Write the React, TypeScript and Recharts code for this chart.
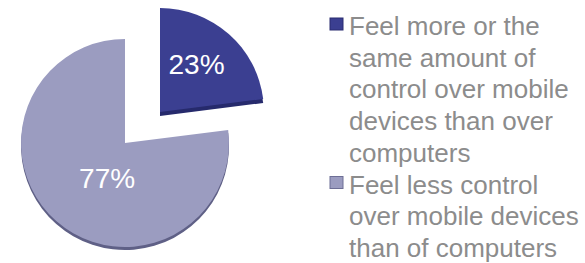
import React from 'react';
import { PieChart, Pie, Cell, Legend } from 'recharts';

const categories = [
  'Feel more or the same amount of control over mobile devices than over computers',
  'Feel less control over mobile devices than of computers',
];
const legendLines = [
  ['Feel more or the', 'same amount of', 'control over mobile', 'devices than over', 'computers'],
  ['Feel less control', 'over mobile devices', 'than of computers'],
];
const values = [23, 77];
const valueLabels = ['23%', '77%'];

const data = categories.map((name, i) => ({ name, value: values[i], label: valueLabels[i] }));

const COLORS = ['#3b3f91', '#9b9cc0'];
const SIDE = ['#262a6c', '#5f6086'];
const FONT = '"Liberation Sans", Arial, Helvetica, sans-serif';
const RAD = Math.PI / 180;

const makeLabel = (showIndex: number) => (props: any) => {
  const { cx, cy, midAngle, outerRadius, index } = props;
  if (index !== showIndex) return null;
  const f = index === 0 ? 0.56 : 0.42;
  let x = cx + outerRadius * f * Math.cos(-midAngle * RAD);
  let y = cy + outerRadius * f * Math.sin(-midAngle * RAD);
  if (index === 0) {
    x -= 2;
    y -= 4;
  } else {
    x += 11;
    y += 3;
  }
  return (
    <text
      x={x}
      y={y}
      fill="#ffffff"
      fontSize={28}
      fontFamily={FONT}
      textAnchor="middle"
      dominantBaseline="central"
    >
      {data[index].label}
    </text>
  );
};

const LINE_H = 31.7;

const renderLegend = () => {
  let line = 0;
  return (
    <svg width={585} height={263} style={{ display: 'block' }}>
      {legendLines.map((lines, i) => {
        const startLine = line;
        line += lines.length;
        const baseY = 35 + startLine * LINE_H;
        return (
          <g key={i}>
            <rect
              x={330}
              y={baseY - 17}
              width={13}
              height={12}
              fill={COLORS[i]}
              stroke={i === 0 ? '#2a2d70' : '#6d6e95'}
              strokeWidth={1}
            />
            {lines.map((t, j) => (
              <text
                key={j}
                x={349}
                y={baseY + j * LINE_H}
                fontSize={26}
                fontFamily={FONT}
                fill="#8c8c8c"
              >
                {t}
              </text>
            ))}
          </g>
        );
      })}
    </svg>
  );
};

export default function App() {
  return (
    <div style={{ position: 'absolute', left: 0, top: 0, width: 585, height: 263, background: '#fff' }}>
      <PieChart width={585} height={263} margin={{ top: 0, right: 0, bottom: 0, left: 0 }}>
        <Pie
          data={data}
          dataKey="value"
          nameKey="name"
          cx={125}
          cy={146}
          outerRadius={104}
          startAngle={90}
          endAngle={-270}
          stroke="none"
          isAnimationActive={false}
          legendType="none"
        >
          {data.map((d, i) => (
            <Cell key={i} fill={i === 1 ? SIDE[1] : 'transparent'} />
          ))}
        </Pie>
        <Pie
          data={data}
          dataKey="value"
          nameKey="name"
          cx={160}
          cy={116}
          outerRadius={104}
          startAngle={90}
          endAngle={-270}
          stroke="none"
          isAnimationActive={false}
          legendType="none"
        >
          {data.map((d, i) => (
            <Cell key={i} fill={i === 0 ? SIDE[0] : 'transparent'} />
          ))}
        </Pie>
        <Pie
          data={data}
          dataKey="value"
          nameKey="name"
          cx={125}
          cy={143}
          outerRadius={104}
          startAngle={90}
          endAngle={-270}
          stroke="none"
          isAnimationActive={false}
          labelLine={false}
          label={makeLabel(1)}
        >
          {data.map((d, i) => (
            <Cell key={i} fill={i === 1 ? COLORS[1] : 'transparent'} />
          ))}
        </Pie>
        <Pie
          data={data}
          dataKey="value"
          nameKey="name"
          cx={160}
          cy={112}
          outerRadius={104}
          startAngle={90}
          endAngle={-270}
          stroke="none"
          isAnimationActive={false}
          labelLine={false}
          label={makeLabel(0)}
        >
          {data.map((d, i) => (
            <Cell key={i} fill={i === 0 ? COLORS[0] : 'transparent'} />
          ))}
        </Pie>
        <Legend
          content={renderLegend}
          wrapperStyle={{ position: 'absolute', left: 0, top: 0, width: 585, height: 263 }}
        />
      </PieChart>
    </div>
  );
}
